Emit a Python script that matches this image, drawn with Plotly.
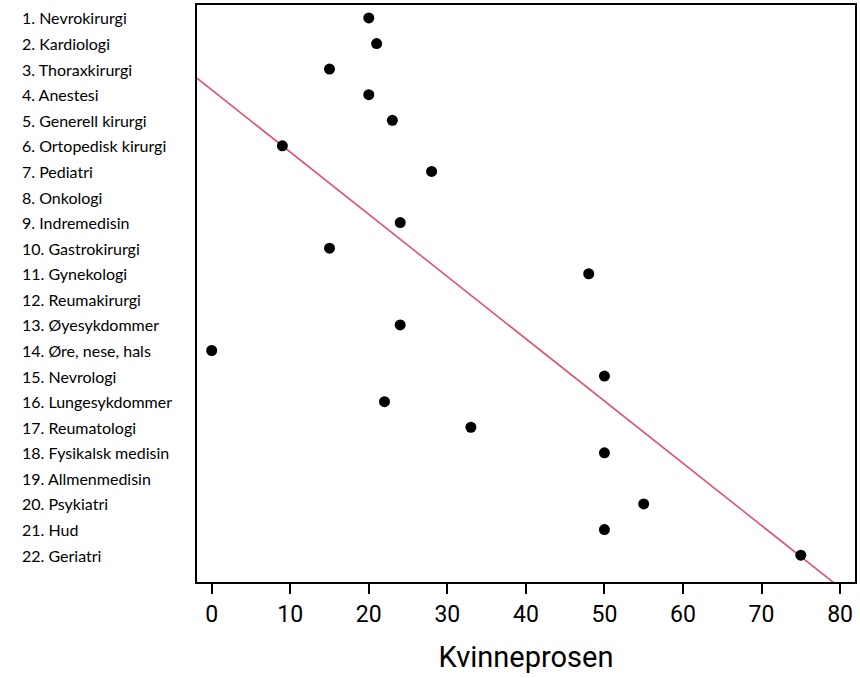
import numpy as np
import plotly.graph_objects as go

specialties = [
    "1. Nevrokirurgi", "2. Kardiologi", "3. Thoraxkirurgi", "4. Anestesi",
    "5. Generell kirurgi", "6. Ortopedisk kirurgi", "7. Pediatri", "8. Onkologi",
    "9. Indremedisin", "10. Gastrokirurgi", "11. Gynekologi", "12. Reumakirurgi",
    "13. Øyesykdommer", "14. Øre, nese, hals", "15. Nevrologi", "16. Lungesykdommer",
    "17. Reumatologi", "18. Fysikalsk medisin", "19. Allmenmedisin", "20. Psykiatri",
    "21. Hud", "22. Geriatri",
]
rank = list(range(1, 23))
kvinneprosent = [20, 21, 15, 20, 23, 9, 28, None, 24, 15, 48, None,
                 24, 0, 50, 22, 33, 50, None, 55, 50, 75]
x_ticks = [0, 10, 20, 30, 40, 50, 60, 70, 80]

LABEL_FONT = "Lato, Roboto, sans-serif"
AXIS_FONT = "Roboto, Liberation Sans, sans-serif"

xr = [-1.87, 81.9]
yr = [23.05, 0.4935]

# regression of rank on percentage (points with values only)
px = np.array([v for v in kvinneprosent if v is not None], dtype=float)
py = np.array([r for r, v in zip(rank, kvinneprosent) if v is not None], dtype=float)
slope, intercept = np.polyfit(px, py, 1)
lx = np.array(xr)
ly = intercept + slope * lx

fig = go.Figure()
fig.add_trace(go.Scatter(
    x=lx, y=ly, mode="lines",
    line=dict(color="#DF536B", width=1.6),
    hoverinfo="skip", showlegend=False,
))
fig.add_trace(go.Scatter(
    x=kvinneprosent, y=rank, mode="markers",
    marker=dict(color="black", size=11, symbol="circle"),
    showlegend=False,
))

plot_left, plot_right = 197, 855
label_x = (20 - plot_left) / (plot_right - plot_left)
for r, name in zip(rank, specialties):
    fig.add_annotation(
        x=label_x, xref="paper", y=r, yref="y",
        text=name, showarrow=False, xanchor="left", yanchor="middle",
        font=dict(family=LABEL_FONT, size=16, color="black"),
    )

fig.update_layout(
    width=860, height=678,
    margin=dict(l=plot_left, r=860 - plot_right, t=3, b=96),
    paper_bgcolor="white", plot_bgcolor="white",
    xaxis=dict(
        range=xr, tickvals=x_ticks, ticktext=[str(t) for t in x_ticks],
        showgrid=False, zeroline=False,
        showline=True, mirror=True, linecolor="black", linewidth=2,
        ticks="outside", ticklen=10, tickwidth=2, tickcolor="black",
        tickfont=dict(family=AXIS_FONT, size=23, color="black"),
        title=dict(text="Kvinneprosen", font=dict(family=AXIS_FONT, size=29, color="black"), standoff=20),
    ),
    yaxis=dict(
        range=yr, showticklabels=False, ticks="",
        showgrid=False, zeroline=False,
        showline=True, mirror=True, linecolor="black", linewidth=2,
    ),
)

fig.write_html("out.html", config={"displayModeBar": False},
               post_script="document.body.style.margin='0';")
